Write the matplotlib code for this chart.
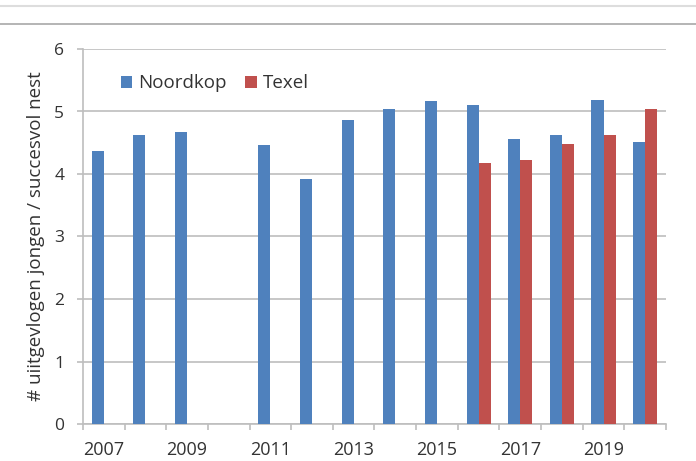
import numpy as np
import matplotlib
matplotlib.use("Agg")
import matplotlib.pyplot as plt
from matplotlib.lines import Line2D

# data
years = list(range(2007, 2021))
noordkop = [4.37, 4.62, 4.67, np.nan, 4.46, 3.92, 4.86, 5.04, 5.16, 5.11, 4.56, 4.63, 5.18, 4.51]
texel = [np.nan] * 9 + [4.18, 4.22, 4.48, 4.62, 5.04]
tick_years = [2007, 2009, 2011, 2013, 2015, 2017, 2019]

blue = "#4F81BD"
red = "#C0504D"
grid_col = "#BEBEBE"
txt_col = "#333333"

plt.rcParams["font.family"] = ["Open Sans", "DejaVu Sans"]

fig = plt.figure(figsize=(6.96, 4.61), dpi=100)
ax = fig.add_axes([83 / 696, 1 - 424 / 461, (666 - 83) / 696, (424 - 49) / 461])

# page lines at the top
fig.add_artist(Line2D([0, 1], [1 - 6 / 461, 1 - 6 / 461], color="#DDDDDD", lw=1.5))
fig.add_artist(Line2D([0, 1], [1 - 24 / 461, 1 - 24 / 461], color="#A8A8A8", lw=1.2))

x = np.arange(len(years))
w = 0.29
ax.bar(x - w / 2, noordkop, w, color=blue, label="Noordkop", zorder=3)
ax.bar(x + w / 2, texel, w, color=red, label="Texel", zorder=3)

ax.set_xlim(-0.5, len(years) - 0.5)
ax.set_ylim(0, 6)
ax.set_yticks(range(0, 7))
ax.yaxis.grid(True, color=grid_col, lw=1.2, zorder=0)
ax.set_axisbelow(True)

ax.set_xticks([years.index(y) for y in tick_years])
ax.set_xticklabels([str(y) for y in tick_years])
ax.set_xticks(np.arange(-0.5, len(years)), minor=True)
ax.tick_params(axis="x", which="major", length=0, pad=12.5, labelsize=13, colors=txt_col)
ax.tick_params(axis="x", which="minor", length=4, color=grid_col, width=1.2)
ax.tick_params(axis="y", length=4.5, color=grid_col, width=1.2, pad=9, labelsize=12.5, labelcolor=txt_col)

for s in ["top", "right"]:
    ax.spines[s].set_visible(False)
for s in ["left", "bottom"]:
    ax.spines[s].set_color(grid_col)
    ax.spines[s].set_linewidth(1.2)

ax.set_ylabel("# uiitgevlogen jongen / succesvol nest", fontsize=13.5, color=txt_col, labelpad=7)

ax.legend(loc="center left", bbox_to_anchor=(0.065, 0.908), ncol=2, frameon=False,
          fontsize=13.5, borderpad=0, borderaxespad=0, handlelength=0.6, handleheight=0.6,
          handletextpad=0.32, columnspacing=1.0, labelcolor=txt_col)

fig.savefig("out.png", dpi=100)
